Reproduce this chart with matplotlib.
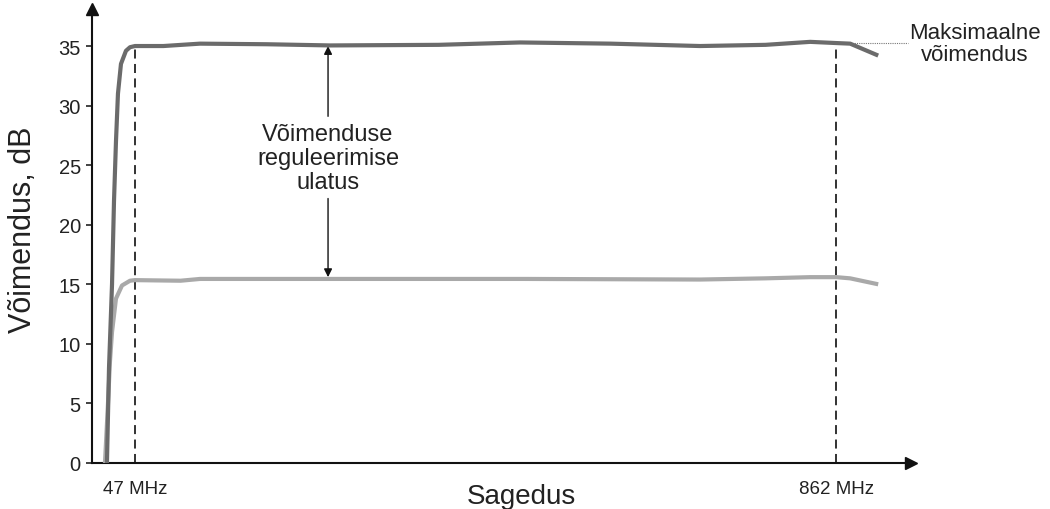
import matplotlib.pyplot as plt

plt.rcParams['font.family'] = ['Liberation Sans', 'DejaVu Sans']

# frequency in MHz, gain in dB
freq_max = [14.4, 16.8, 20.3, 22.6, 24.9, 27.2, 30.7, 36.5, 41.2, 47, 80, 122.6, 200, 273.7, 400, 494.6, 600, 703.9, 780, 831.8, 862, 878.3, 910.9]
gain_max = [0, 8, 15, 22, 27, 31, 33.5, 34.6, 34.9, 35.0, 35.0, 35.2, 35.15, 35.05, 35.1, 35.3, 35.2, 35.0, 35.1, 35.35, 35.25, 35.2, 34.2]

freq_min = [12.1, 15.6, 17.9, 20.3, 24.9, 31.9, 41.2, 47, 100, 122.6, 300, 500, 703.9, 780, 831.8, 862, 878.3, 910.9]
gain_min = [0, 5, 8.5, 11, 13.8, 14.9, 15.3, 15.35, 15.3, 15.45, 15.45, 15.45, 15.4, 15.5, 15.6, 15.6, 15.5, 15.0]

marker_freqs = [47, 862]
marker_labels = ['47 MHz', '862 MHz']
yticks = [0, 5, 10, 15, 20, 25, 30, 35]

fig = plt.figure(figsize=(10.5, 5.1), dpi=100)
ax = fig.add_axes([0.0876, 0.0902, 0.780, 0.890])

ax.plot(freq_min, gain_min, color='#a9a9a9', lw=3, solid_capstyle='butt', zorder=3)
ax.plot(freq_max, gain_max, color='#6b6b6b', lw=3, solid_capstyle='butt', zorder=4)

# dashed markers at band edges
ax.plot([47, 47], [0, 35.0], color='#222222', lw=1.3, ls=(0, (5, 3)), zorder=2)
ax.plot([862, 862], [0, 35.25], color='#222222', lw=1.3, ls=(0, (5, 3)), zorder=2)

# range arrow
ax.annotate('', xy=(271.4, 35.0), xytext=(271.4, 29.1),
            arrowprops=dict(arrowstyle='-|>', color='#111111', lw=1, mutation_scale=12, shrinkA=0, shrinkB=0))
ax.annotate('', xy=(271.4, 15.6), xytext=(271.4, 22.2),
            arrowprops=dict(arrowstyle='-|>', color='#111111', lw=1, mutation_scale=12, shrinkA=0, shrinkB=0))
ax.text(271.4, 25.6, 'Võimenduse\nreguleerimise\nulatus', ha='center', va='center',
        fontsize=17, color='#222222', linespacing=1.1)

# maximum gain annotation
ax.plot([880, 946], [35.25, 35.25], color='#777777', lw=0.8, ls=(0, (1, 1)), clip_on=False)
ax.text(1023, 35.2, 'Maksimaalne\nvõimendus', ha='center', va='center',
        fontsize=16, color='#222222', linespacing=1.1, clip_on=False)

ax.set_xlim(-3, 949)
ax.set_ylim(0, 38.1)
ax.spines['top'].set_visible(False)
ax.spines['right'].set_visible(False)
for s in ['left', 'bottom']:
    ax.spines[s].set_linewidth(1.5)
    ax.spines[s].set_color('#111111')

# axis arrows
ax.plot(1, 0, '>', color='#111111', markersize=9, transform=ax.transAxes, clip_on=False)
ax.plot(0, 1, '^', color='#111111', markersize=9, transform=ax.transAxes, clip_on=False)

ax.set_yticks(yticks)
ax.tick_params(axis='y', labelsize=14.5, colors='#222222', length=4, width=1.2, direction='out', pad=4)
ax.set_xticks(marker_freqs)
ax.set_xticklabels(marker_labels)
ax.tick_params(axis='x', labelsize=13.5, colors='#222222', length=0, pad=12)

fig.text(521 / 1050, 1 - 497 / 510, 'Sagedus', fontsize=20, color='#222222', ha='center', va='center')
fig.text(23 / 1050, 1 - 230 / 510, 'Võimendus, dB', fontsize=22, color='#222222',
         ha='center', va='center', rotation=90)

fig.savefig('out.png', dpi=100)
